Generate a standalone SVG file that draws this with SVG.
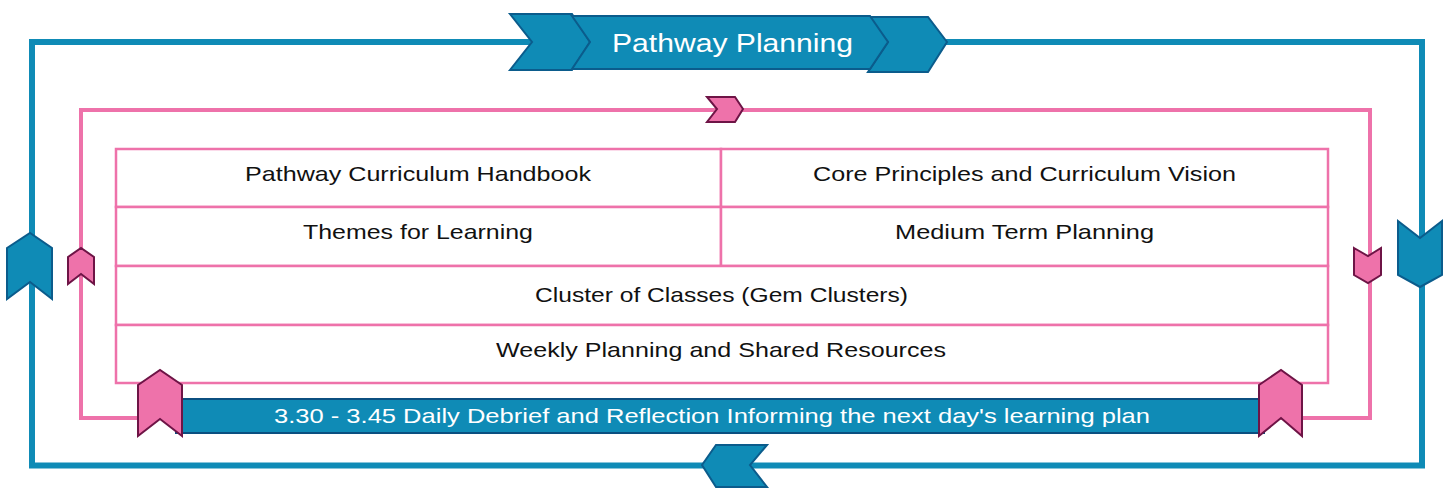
<svg xmlns="http://www.w3.org/2000/svg" width="1453" height="489" viewBox="0 0 1453 489">
<style>
.bl{fill:none;stroke:#0f8bb6;stroke-width:6}
.pl{fill:none;stroke:#ee72aa;stroke-width:4}
.bc{fill:#0f8bb6;stroke:#0b5c8c;stroke-width:2;stroke-linejoin:miter}
.pc{fill:#ee72aa;stroke:#6e1446;stroke-width:2;stroke-linejoin:miter}
.cell{fill:#fff;stroke:#ee72aa;stroke-width:2.5}
.t{font-family:"Liberation Sans","DejaVu Sans",sans-serif;font-size:21px;fill:#111;text-anchor:middle}
.w{font-family:"Liberation Sans","DejaVu Sans",sans-serif;fill:#fff;text-anchor:middle}
</style>
<g id="connectors">
<rect class="bl" x="32" y="42" width="1390" height="423.5"/>
<rect class="pl" x="81" y="110" width="1289" height="308"/>
</g>
<g id="table">
<g id="cell-handbook"><rect class="cell" x="116" y="149" width="605" height="58"/><text class="t" x="418" y="181" textLength="346" lengthAdjust="spacingAndGlyphs">Pathway Curriculum Handbook</text></g>
<g id="cell-core"><rect class="cell" x="721" y="149" width="607" height="58"/><text class="t" x="1024.5" y="181" textLength="423" lengthAdjust="spacingAndGlyphs">Core Principles and Curriculum Vision</text></g>
<g id="cell-themes"><rect class="cell" x="116" y="207" width="605" height="59"/><text class="t" x="418" y="239" textLength="230" lengthAdjust="spacingAndGlyphs">Themes for Learning</text></g>
<g id="cell-medium"><rect class="cell" x="721" y="207" width="607" height="59"/><text class="t" x="1024.5" y="239" textLength="259" lengthAdjust="spacingAndGlyphs">Medium Term Planning</text></g>
<g id="cell-cluster"><rect class="cell" x="116" y="266" width="1212" height="59"/><text class="t" x="721.5" y="302" textLength="373" lengthAdjust="spacingAndGlyphs">Cluster of Classes (Gem Clusters)</text></g>
<g id="cell-weekly"><rect class="cell" x="116" y="325" width="1212" height="58"/><text class="t" x="721" y="357" textLength="450" lengthAdjust="spacingAndGlyphs">Weekly Planning and Shared Resources</text></g>
</g>
<g id="pathway-planning">
<polygon class="bc" points="510,14 572,14 590,42 572,70 510,70 532,42"/>
<polygon class="bc" points="868,17 928,17 947,42 928,72 868,72 888,42"/>
<polygon class="bc" points="572,16 870,16 888,42 870,69 572,69 590,42"/>
<text class="w" x="732.5" y="52" font-size="26" textLength="241" lengthAdjust="spacingAndGlyphs">Pathway Planning</text>
</g>
<g id="arrows">
<polygon class="pc" points="707,97 735,97 743,109 735,122 707,122 717,109"/>
<polygon class="bc" points="7,248 30,233 52,248 52,299 30,282 7,299"/>
<polygon class="pc" points="68,257 81,248 94,257 94,284 81,274 68,284"/>
<polygon class="pc" points="1354,248 1368,256 1381,248 1381,275 1368,283 1354,275"/>
<polygon class="bc" points="1398,221 1420,238 1442,221 1442,275 1420,287 1398,275"/>
<polygon class="bc" points="702,465 716,445 767,445 750,465 767,487 716,487"/>
</g>
<g id="debrief">
<rect x="176" y="399" width="1088" height="34" fill="#0f8bb6" stroke="#0b4f80" stroke-width="2"/>
<text class="w" x="712" y="423" font-size="21" textLength="876" lengthAdjust="spacingAndGlyphs">3.30 - 3.45 Daily Debrief and Reflection Informing the next day's learning plan</text>
<polygon class="pc" points="138,385 160,370 182,385 182,436 160,419 138,436"/>
<polygon class="pc" points="1259,385 1281,370 1302,385 1302,436 1281,418 1259,436"/>
</g>
</svg>
